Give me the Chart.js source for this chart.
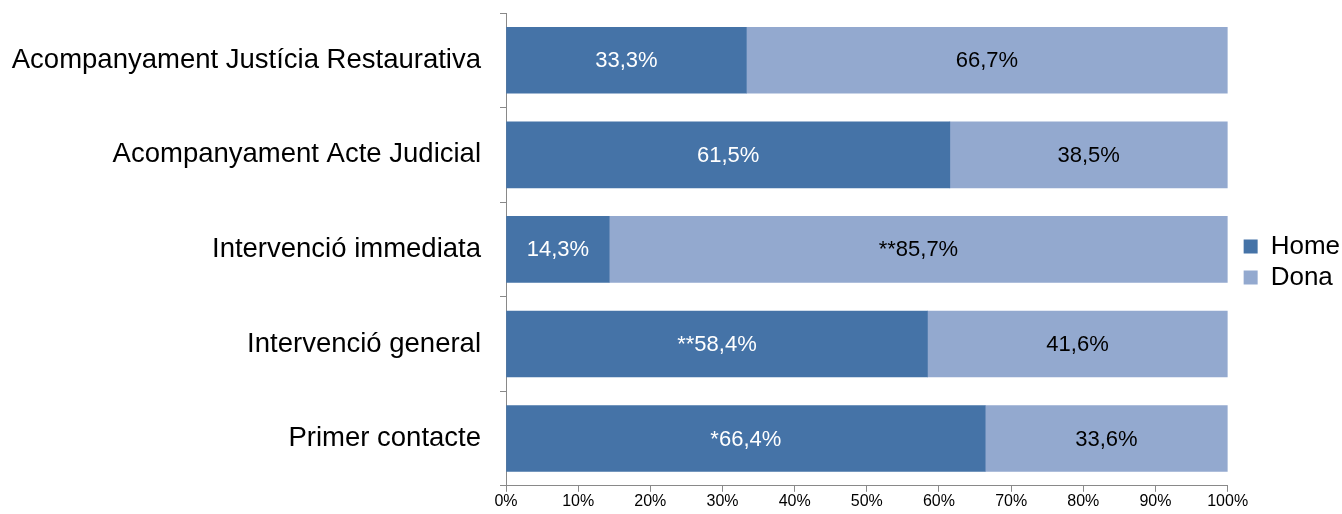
<!DOCTYPE html>
<html>
<head>
<meta charset="utf-8">
<script src="https://cdn.jsdelivr.net/npm/chart.js@4"></script>
<style>
  html, body { margin: 0; padding: 0; background: #fff; }
  #wrap { width: 1342px; height: 514px; }
</style>
</head>
<body>
<div id="wrap"><canvas id="bar-chart"></canvas></div>
<script>
var categories = ["Acompanyament Justícia Restaurativa", "Acompanyament Acte Judicial", "Intervenció immediata", "Intervenció general", "Primer contacte"];
var homeValues = [33.3, 61.5, 14.3, 58.4, 66.4];
var donaValues = [66.7, 38.5, 85.7, 41.6, 33.6];
var homeLabels = ["33,3%", "61,5%", "14,3%", "**58,4%", "*66,4%"];
var donaLabels = ["66,7%", "38,5%", "**85,7%", "41,6%", "33,6%"];

Chart.defaults.font.family = "'Liberation Sans', Arial, sans-serif";

// writes the value text in the middle of every bar
var barText = {
  id: "barText",
  afterDatasetsDraw: function(chart) {
    var c = chart.ctx;
    c.save();
    c.font = "22px 'Liberation Sans', Arial, sans-serif";
    c.textAlign = "center";
    c.textBaseline = "middle";
    chart.data.datasets.forEach(function(ds, i) {
      var meta = chart.getDatasetMeta(i);
      meta.data.forEach(function(bar, j) {
        c.fillStyle = ds.textColor;
        c.fillText(ds.texts[j], (bar.x + bar.base) / 2, bar.y + 1);
      });
    });
    c.restore();
  }
};

var ctx = document.getElementById("bar-chart");
var chart = new Chart(ctx, {
  type: 'bar',
  data: {
    labels: categories,
    datasets: [
      {
        label: "Home",
        data: homeValues,
        texts: homeLabels,
        textColor: "#ffffff",
        backgroundColor: "#4573a7",
        barThickness: 66
      },
      {
        label: "Dona",
        data: donaValues,
        texts: donaLabels,
        textColor: "#000000",
        backgroundColor: "#93a9cf",
        barThickness: 66
      }
    ]
  },
  options: {
    indexAxis: 'y',
    responsive: true,
    maintainAspectRatio: false,
    animation: false,
    layout: { padding: { left: 8, top: 13, right: -8, bottom: 3 } },
    plugins: {
      legend: {
        position: 'right',
        labels: {
          boxWidth: 14,
          boxHeight: 14,
          padding: 5,
          color: "#000",
          font: { size: 26 }
        }
      },
      tooltip: { enabled: false }
    },
    scales: {
      x: {
        stacked: true,
        min: 0,
        max: 100,
        ticks: {
          stepSize: 10,
          color: "#000",
          font: { size: 16 },
          padding: 0,
          callback: function(v) { return v + "%"; }
        },
        grid: { drawOnChartArea: false, tickLength: 6, color: "#898989" },
        border: { color: "#898989" }
      },
      y: {
        stacked: true,
        ticks: { color: "#000", font: { size: 27.5 }, padding: 19 },
        grid: { drawOnChartArea: false, tickLength: 6, color: "#898989", offset: true },
        border: { color: "#898989" },
        afterFit: function(scale) {
          scale.width = 498;
          scale.paddingTop = 0;
          scale.paddingBottom = 0;
        }
      },
      // empty spacer between the bars and the legend
      gap: {
        type: 'linear',
        position: 'right',
        grid: { display: false },
        ticks: { display: false },
        border: { display: false },
        afterFit: function(scale) {
          scale.width = 11;
        }
      }
    }
  },
  plugins: [barText]
});
</script>
</body>
</html>
